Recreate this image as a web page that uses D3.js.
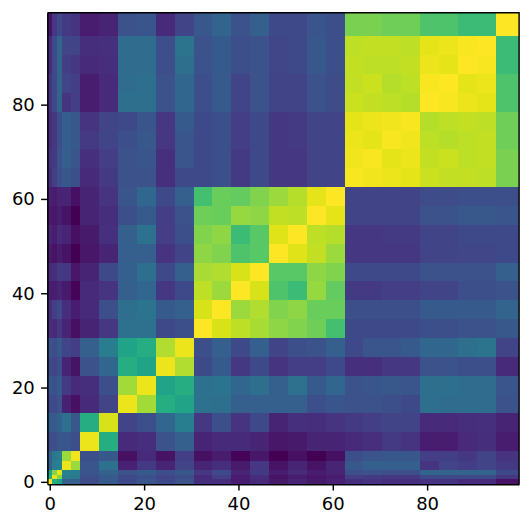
<!DOCTYPE html>
<html><head><meta charset="utf-8">
<script src="https://cdn.jsdelivr.net/npm/d3@7/dist/d3.min.js"></script>
<style>html,body{margin:0;padding:0;background:#fff}svg{display:block}
text{font-family:"DejaVu Sans",sans-serif}</style></head>
<body><div id="c"></div>
<script>
const blockEdges=[0,1,2,3,5,7,11,15,19,23,27,31,35,39,43,47,51,55,59,63,67,71,75,79,83,87,91,95,100];
const tickValues=[0,20,40,60,80];
const rowsLower=[
[1],
[.62,.96],
[.58,.82,.96],
[.3,.42,.44,.97],
[.3,.4,.42,.85,.98],
[.23,.24,.26,.26,.24,.97],
[.28,.28,.31,.37,.27,.62,.94],
[.22,.22,.25,.09,.04,.12,.2,.97],
[.26,.24,.28,.17,.12,.13,.24,.86,.97],
[.22,.2,.24,.1,.05,.25,.33,.62,.58,.97],
[.25,.23,.27,.2,.18,.3,.42,.58,.62,.88,.97],
[.13,.12,.16,.1,.04,.1,.16,.37,.37,.22,.24,1],
[.13,.18,.22,.13,.08,.12,.24,.36,.38,.28,.3,.94,1],
[.08,.08,.1,.07,.01,.12,.15,.3,.33,.16,.22,.9,.85,1],
[.12,.13,.17,.16,.06,.1,.22,.3,.36,.22,.3,.87,.88,.94,1],
[.07,.05,.08,.05,0,.06,.1,.3,.3,.15,.2,.83,.81,.72,.74,1],
[.1,.08,.12,.1,.04,.07,.14,.3,.37,.18,.24,.81,.83,.68,.74,.95,1],
[.07,.06,.08,.05,0,.1,.13,.24,.28,.18,.25,.78,.77,.84,.83,.91,.9,1],
[.09,.08,.1,.1,.04,.1,.15,.26,.33,.22,.3,.7,.77,.76,.81,.85,.89,.96,1],
[.13,.18,.24,.27,.24,.12,.17,.25,.25,.14,.22,.22,.24,.17,.22,.16,.16,.2,.2,.99],
[.15,.17,.25,.3,.26,.14,.18,.25,.26,.14,.26,.22,.24,.17,.22,.16,.16,.2,.2,.98,.99],
[.13,.16,.24,.3,.27,.17,.2,.24,.27,.16,.26,.22,.24,.18,.22,.16,.17,.2,.2,.97,.96,.99],
[.13,.16,.24,.3,.27,.15,.2,.22,.26,.16,.28,.22,.24,.18,.22,.16,.17,.2,.2,.96,.97,.98,.99],
[.15,.22,.32,.15,.18,.08,.12,.36,.36,.25,.33,.24,.28,.2,.25,.2,.2,.25,.23,.92,.91,.9,.89,1],
[.15,.22,.32,.2,.18,.08,.12,.35,.36,.25,.33,.24,.28,.2,.25,.2,.2,.25,.23,.91,.92,.89,.9,.99,1],
[.12,.22,.32,.18,.16,.12,.13,.35,.35,.24,.36,.25,.28,.24,.25,.21,.22,.27,.24,.91,.9,.9,.91,.97,.96,1],
[.12,.22,.32,.2,.2,.13,.14,.35,.35,.24,.38,.25,.28,.24,.25,.21,.22,.27,.24,.9,.91,.91,.9,.96,.97,.99,1],
[.05,.16,.22,.17,.15,.08,.1,.25,.26,.12,.2,.27,.32,.25,.3,.22,.22,.26,.24,.8,.8,.78,.78,.72,.72,.68,.68,1]
];
const W=532,H=527,m={l:47.4,r:519.1,t:12.7,b:484.2};
const x=d3.scaleLinear().domain([-0.5,99.5]).range([m.l,m.r]);
const y=d3.scaleLinear().domain([-0.5,99.5]).range([m.b,m.t]);
const color=d3.scaleSequential(d3.interpolateViridis).domain([0,1]);
const svg=d3.select("#c").append("svg").attr("width",W).attr("height",H);
const cells=[];
rowsLower.forEach((row,i)=>row.forEach((v,j)=>{
  cells.push({r:i,c:j,v});
  if(i!==j)cells.push({r:j,c:i,v});
}));
svg.append("g").selectAll("rect").data(cells).join("rect")
  .attr("shape-rendering","crispEdges")
  .attr("x",d=>x(blockEdges[d.c]-0.5))
  .attr("width",d=>x(blockEdges[d.c+1]-0.5)-x(blockEdges[d.c]-0.5))
  .attr("y",d=>y(blockEdges[d.r+1]-0.5))
  .attr("height",d=>y(blockEdges[d.r]-0.5)-y(blockEdges[d.r+1]-0.5))
  .attr("fill",d=>color(d.v));
const ax=g=>{g.selectAll("text").attr("font-size",18).attr("font-family","DejaVu Sans").attr("fill","#000");
  g.selectAll("line,path").attr("stroke","#000").attr("stroke-width",1.44);};
svg.append("g").attr("transform",`translate(0,${m.b})`)
  .call(d3.axisBottom(x).tickValues(tickValues).tickSize(6.3).tickPadding(6.3).tickSizeOuter(0)).call(ax);
svg.append("g").attr("transform",`translate(${m.l},0)`)
  .call(d3.axisLeft(y).tickValues(tickValues).tickSize(6.3).tickPadding(6.3).tickSizeOuter(0)).call(ax);
svg.append("path").attr("d",`M${m.l},${m.t}H${m.r}V${m.b}`).attr("fill","none").attr("stroke","#000").attr("stroke-width",1.44);
</script></body></html>
